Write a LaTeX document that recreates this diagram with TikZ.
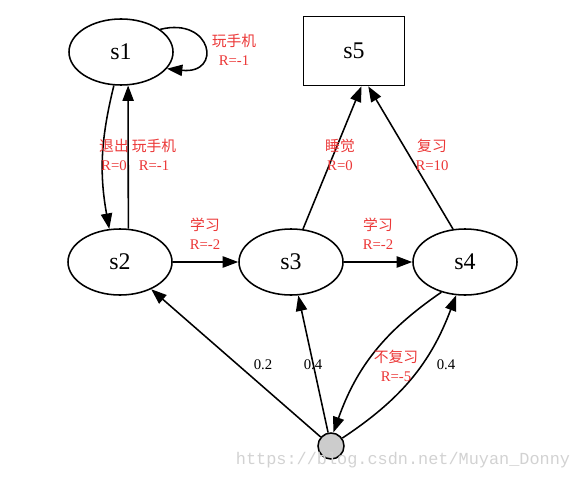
\documentclass[tikz,border=0pt]{standalone}
\usepackage{fontspec}
\setmainfont{Liberation Serif}
\setmonofont{Liberation Mono}
\newfontfamily\cjk{Noto Sans CJK SC}
\usetikzlibrary{arrows.meta,shapes.geometric}
\definecolor{lblred}{RGB}{235,55,55}

\begin{document}
\begin{tikzpicture}[x=0.025cm,y=-0.025cm,line width=1.1pt,
    state/.style={ellipse,draw,inner sep=0pt,minimum width=2.6cm,minimum height=1.65cm,font=\fontsize{17}{20}\selectfont},
    arr/.style={-{Triangle[length=11pt,width=8pt]}},
    lab/.style={text=lblred,align=center,font=\fontsize{10.5}{13.5}\selectfont},
    prob/.style={font=\fontsize{10.5}{12}\selectfont}]
    \useasboundingbox (0,0) rectangle (579,479);

    % states
    \node [state] (s1) at (121,52) {s1};
    \node [state] (s2) at (120,262) {s2};
    \node [state] (s3) at (291,262) {s3};
    \node [state] (s4) at (465,262) {s4};
    \node [draw,inner sep=0pt,minimum width=2.525cm,minimum height=1.725cm,font=\fontsize{17}{20}\selectfont] (s5) at (354,51) {s5};
    % chance node
    \node [circle,draw,fill=gray!40,inner sep=0pt,minimum size=0.65cm] (c) at (331,446) {};

    \draw [arr] (s1.30) .. controls +(52,-13) and +(56,6) .. (s1.-20);
    \draw [arr] (s1.-102) to [bend right=12] (s2.108);
    \draw [arr] (s2.76) -- (s1.-78);
    \draw [arr] (s2) -- (s3);
    \draw [arr] (s3) -- (s4);
    \draw [arr] (s3.70) -- (s5.-78);
    \draw [arr] (s4.110) -- (s5.-68);
    \draw [arr] (c) -- (s2);
    \draw [arr] (c) -- (s3);
    \draw [arr] (s4.-128) to [bend right=18] (c.80);
    \draw [arr] (c.35) to [bend right=18] (s4.-105);

    % labels
    \node [lab] (l11) at (234,50) {{\cjk 玩手机}\\R=-1};
    \node [lab] (l12) at (114,155) {{\cjk 退出}\\R=0};
    \node [lab] (l21) at (154,155) {{\cjk 玩手机}\\R=-1};
    \node [lab] (l23) at (205,234) {{\cjk 学习}\\R=-2};
    \node [lab] (l34) at (378,234) {{\cjk 学习}\\R=-2};
    \node [lab] (l35) at (340,155) {{\cjk 睡觉}\\R=0};
    \node [lab] (l45) at (432,155) {{\cjk 复习}\\R=10};
    \node [lab] (l4c) at (396,366) {{\cjk 不复习}\\R=-5};
    \node [prob] (p2) at (263,365) {0.2};
    \node [prob] (p3) at (313,365) {0.4};
    \node [prob] (p4) at (446,365) {0.4};

    \node [text=gray!35,font=\ttfamily\fontsize{12}{14}\selectfont] (wm) at (403,460) {https://blog.csdn.net/Muyan\_Donny};
\end{tikzpicture}
\end{document}
